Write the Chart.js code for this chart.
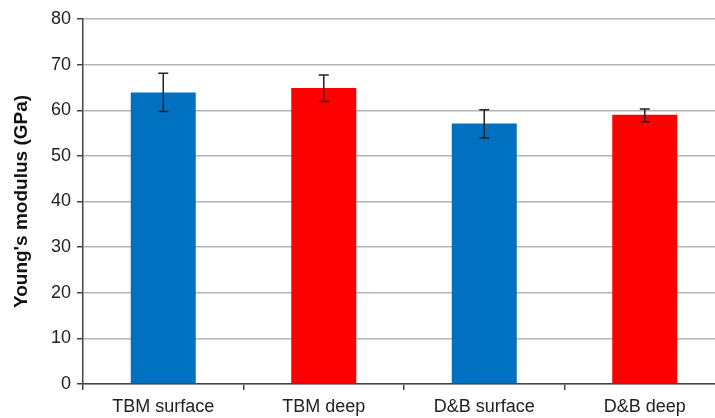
<!DOCTYPE html>
<html>
<head>
<meta charset="utf-8">
<script src="https://cdn.jsdelivr.net/npm/chart.js@4/dist/chart.umd.min.js"></script>
<style>
html,body{margin:0;padding:0;background:#fff;overflow:hidden;}
#wrap{width:730px;height:418px;}
</style>
</head>
<body>
<div id="wrap"><canvas id="c" width="730" height="418"></canvas></div>
<script>
const categories = ["TBM surface", "TBM deep", "D&B surface", "D&B deep"];
const modulus = [63.9, 64.9, 57.1, 59.0];
const errorLow = [59.7, 61.9, 53.9, 57.5];
const errorHigh = [68.1, 67.7, 60.1, 60.3];
const barColors = ["#0070c0", "#ff0000", "#0070c0", "#ff0000"];
const yTicks = [0, 10, 20, 30, 40, 50, 60, 70, 80];

const errorBarPlugin = {
  id: 'errorBars',
  afterDatasetsDraw(chart) {
    const ctx = chart.ctx;
    const meta = chart.getDatasetMeta(0);
    const y = chart.scales.y;
    ctx.save();
    ctx.strokeStyle = '#222';
    ctx.lineWidth = 1.5;
    meta.data.forEach((bar, i) => {
      const x = bar.x;
      const yt = y.getPixelForValue(errorHigh[i]);
      const yb = y.getPixelForValue(errorLow[i]);
      ctx.beginPath();
      ctx.moveTo(x, yt); ctx.lineTo(x, yb);
      ctx.moveTo(x - 5, yt); ctx.lineTo(x + 5, yt);
      ctx.moveTo(x - 5, yb); ctx.lineTo(x + 5, yb);
      ctx.stroke();
    });
    ctx.restore();
  }
};

new Chart(document.getElementById('c'), {
  type: 'bar',
  data: {
    labels: categories,
    datasets: [{
      data: modulus,
      backgroundColor: barColors,
      borderWidth: 0,
      barPercentage: 0.405,
      categoryPercentage: 1.0
    }]
  },
  options: {
    responsive: false,
    animation: false,
    devicePixelRatio: 1,
    layout: { padding: { top: 19, right: 5, left: 0, bottom: 0 } },
    plugins: { legend: { display: false }, tooltip: { enabled: false } },
    scales: {
      x: {
        offset: true,
        grid: { display: true, drawOnChartArea: false, drawTicks: true, tickLength: 6, color: '#444', lineWidth: 1.5, offset: true },
        border: { display: true, color: '#444', width: 1.5 },
        ticks: { color: '#222', font: { family: 'Liberation Sans', size: 18 }, padding: 6, maxRotation: 0 },
        afterFit(scale) { scale.height = 34; }
      },
      y: {
        min: 0, max: 80,
        afterBuildTicks(scale) { scale.ticks = yTicks.map(v => ({ value: v })); },
        grid: { color: '#b4b4b4', lineWidth: 1.5, drawTicks: true, tickLength: 6, tickColor: '#444' },
        border: { display: true, color: '#444', width: 1.5 },
        ticks: { color: '#222', font: { family: 'Liberation Sans', size: 18 }, padding: 6 },
        title: { display: true, text: "Young's modulus (GPa)", color: '#111', font: { family: 'Liberation Sans', size: 19, weight: 'bold' }, padding: { top: 10, bottom: 4 } },
        afterFit(scale) { scale.width = 83; }
      }
    }
  },
  plugins: [errorBarPlugin]
});
</script>
</body>
</html>
